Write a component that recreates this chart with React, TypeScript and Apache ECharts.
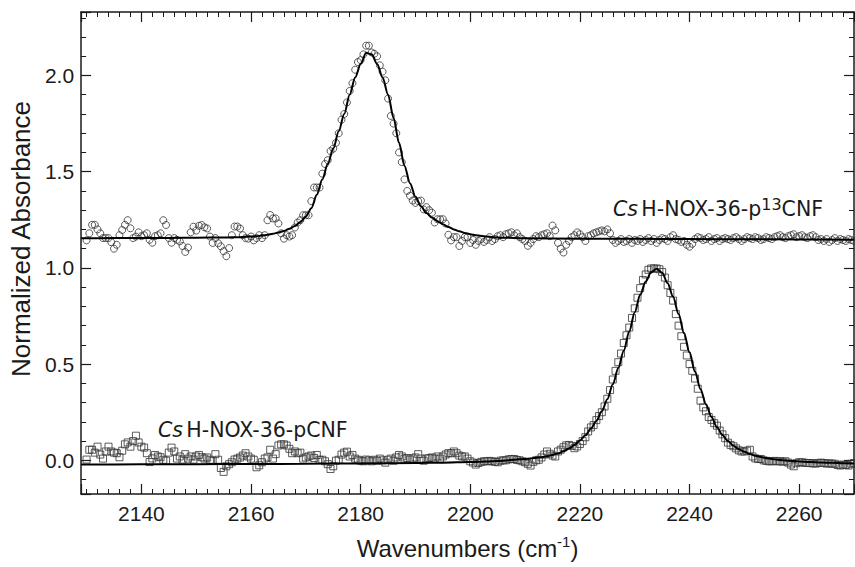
import React, { useEffect, useRef } from 'react';
import * as echarts from 'echarts';

// Sampling grid of the measured spectra (cm^-1)
const WN_START = 2130;
const WN_STEP = 0.5;

// Cs H-NOX-36-p13CNF (circles), offset spectrum
const p13Absorbance = [
  1.143, 1.18, 1.224, 1.224, 1.2, 1.18, 1.155, 1.155, 1.155, 1.134,
  1.1, 1.12, 1.17, 1.197, 1.224, 1.248, 1.206, 1.155, 1.163, 1.185,
  1.165, 1.17, 1.18, 1.146, 1.131, 1.165, 1.17, 1.18, 1.248, 1.223,
  1.155, 1.131, 1.155, 1.146, 1.138, 1.114, 1.083, 1.106, 1.185, 1.214,
  1.194, 1.219, 1.223, 1.211, 1.205, 1.163, 1.13, 1.155, 1.128, 1.112,
  1.087, 1.061, 1.103, 1.17, 1.215, 1.215, 1.205, 1.17, 1.155, 1.152,
  1.163, 1.143, 1.155, 1.17, 1.155, 1.17, 1.248, 1.275, 1.257, 1.257,
  1.231, 1.18, 1.152, 1.17, 1.163, 1.17, 1.21, 1.236, 1.248, 1.274,
  1.274, 1.274, 1.347, 1.418, 1.418, 1.418, 1.49, 1.54, 1.56, 1.607,
  1.62, 1.65, 1.7, 1.77, 1.8, 1.86, 1.92, 1.96, 2.03, 2.07,
  2.08, 2.11, 2.155, 2.155, 2.12, 2.113, 2.1, 2.053, 2.02, 1.975,
  1.88, 1.79, 1.75, 1.7, 1.6, 1.55, 1.46, 1.4, 1.375, 1.35,
  1.338, 1.347, 1.35, 1.304, 1.316, 1.3, 1.287, 1.236, 1.253, 1.253,
  1.253, 1.231, 1.172, 1.143, 1.16, 1.16, 1.114, 1.14, 1.16, 1.16,
  1.13, 1.145, 1.12, 1.14, 1.15, 1.135, 1.145, 1.16, 1.14, 1.15,
  1.165, 1.17, 1.16, 1.175, 1.18, 1.185, 1.17, 1.18, 1.16, 1.15,
  1.14, 1.115, 1.13, 1.15, 1.165, 1.16, 1.17, 1.175, 1.18, 1.165,
  1.22, 1.195, 1.13, 1.1, 1.08, 1.12, 1.14, 1.16, 1.17, 1.185,
  1.175, 1.16, 1.14, 1.165, 1.17, 1.18, 1.185, 1.19, 1.195, 1.19,
  1.2, 1.18, 1.145, 1.13, 1.14, 1.15, 1.135, 1.14, 1.15, 1.13,
  1.145, 1.14, 1.15, 1.135, 1.145, 1.155, 1.14, 1.15, 1.13, 1.145,
  1.155, 1.15, 1.14, 1.16, 1.17, 1.15, 1.145, 1.135, 1.14, 1.12,
  1.11, 1.125, 1.15, 1.16, 1.155, 1.145, 1.15, 1.16, 1.14, 1.15,
  1.155, 1.14, 1.15, 1.155, 1.15, 1.145, 1.155, 1.16, 1.15, 1.14,
  1.15, 1.16, 1.155, 1.15, 1.16, 1.155, 1.145, 1.15, 1.16, 1.155,
  1.15, 1.16, 1.165, 1.17, 1.16, 1.155, 1.165, 1.17, 1.175, 1.16,
  1.165, 1.17, 1.16, 1.155, 1.165, 1.17, 1.16, 1.145, 1.15, 1.14,
  1.15, 1.135, 1.145, 1.155, 1.14, 1.15, 1.145, 1.14, 1.15, 1.145, 1.14,
];

// Cs H-NOX-36-pCNF (squares)
const pAbsorbance = [
  0.004, 0.055, 0.055, 0.04, 0.071, 0.03, 0.009, 0.046, 0.071, 0.046,
  0.04, 0.037, 0.016, 0.05, 0.083, 0.093, 0.071, 0.1, 0.128, 0.093,
  0.071, 0.066, 0.037, -0.009, 0.01, 0.028, 0.02, 0.016, 0.003, -0.002,
  0.04, 0.066, 0.046, 0.009, 0.02, 0.004, 0.032, 0.009, 0.02, 0.004,
  0.02, 0.028, 0.016, 0.009, 0.015, 0.003, -0.002, 0.032, 0.003, -0.04,
  -0.06, -0.031, -0.02, -0.01, 0.004, 0.009, 0.015, 0.025, 0.037, 0.02,
  0.009, 0.003, -0.036, -0.026, -0.01, 0.009, 0.015, 0.055, 0.009, 0.032,
  0.077, 0.083, 0.083, 0.077, 0.06, 0.037, 0.046, 0.037, 0.04, 0.009,
  0.015, 0.02, 0.025, 0.012, 0.028, 0.003, 0.003, -0.005, -0.02, -0.045,
  -0.031, -0.002, 0.003, 0.03, 0.04, 0.045, 0.02, 0.028, 0.009, 0.003,
  -0.002, -0.005, 0.004, 0.0, -0.005, 0.003, -0.002, 0.009, 0.0, -0.012,
  0.003, 0.009, -0.002, 0.015, 0.028, 0.02, 0.009, 0.012, 0.004, 0.01,
  0.015, 0.032, 0.009, -0.002, 0.009, 0.012, 0.015, 0.009, 0.02, 0.009,
  0.02, 0.03, 0.037, 0.037, 0.046, 0.037, 0.025, 0.02, 0.02, 0.009,
  -0.005, -0.012, -0.022, -0.014, -0.008, -0.005, -0.005, -0.003, -0.005, -0.008,
  -0.01, -0.002, 0.0, 0.0, 0.005, 0.007, 0.007, 0.002, 0.0, -0.005,
  -0.01, -0.018, -0.027, -0.008, 0.0, 0.003, 0.015, 0.03, 0.046, 0.034,
  0.025, 0.02, 0.046, 0.055, 0.068, 0.078, 0.08, 0.075, 0.063, 0.072,
  0.085, 0.1, 0.12, 0.15, 0.171, 0.183, 0.209, 0.23, 0.25, 0.28,
  0.32, 0.365, 0.42, 0.465, 0.51, 0.555, 0.61, 0.65, 0.69, 0.74,
  0.79, 0.845, 0.895, 0.937, 0.966, 0.99, 0.997, 0.997, 0.997, 0.993,
  0.979, 0.95, 0.91, 0.87, 0.83, 0.76, 0.7, 0.645, 0.59, 0.545,
  0.5, 0.465, 0.425, 0.372, 0.31, 0.275, 0.255, 0.225, 0.21, 0.193,
  0.18, 0.155, 0.135, 0.115, 0.092, 0.08, 0.073, 0.062, 0.052, 0.046,
  0.046, 0.05, 0.055, 0.02, 0.01, 0.007, 0.007, 0.0, -0.003, -0.005,
  -0.005, -0.003, -0.005, -0.005, -0.007, -0.005, -0.012, -0.022, -0.031, -0.015,
  -0.01, -0.01, -0.013, -0.014, -0.014, -0.016, -0.017, -0.014, -0.012, -0.014,
  -0.017, -0.016, -0.017, -0.018, -0.024, -0.027, -0.022, -0.024, -0.027, -0.018,
  -0.014,
];

// Fitted curves
const p13FitWn = [
  2129, 2135, 2140, 2145, 2150, 2155, 2158, 2160, 2161, 2162, 2163, 2164, 2165, 2166, 2167,
  2168, 2169, 2170, 2171, 2172, 2173, 2174, 2175, 2176, 2177, 2178, 2179, 2180, 2181, 2182,
  2183, 2184, 2185, 2186, 2187, 2188, 2189, 2190, 2191, 2192, 2193, 2194, 2195, 2196, 2197,
  2198, 2199, 2200, 2201, 2202, 2203, 2204, 2206, 2210, 2220, 2230, 2240, 2250, 2260, 2270,
];
const p13Fit = [
  1.154, 1.155, 1.155, 1.156, 1.157, 1.158, 1.16, 1.163, 1.165, 1.168, 1.172, 1.177, 1.184, 1.192, 1.203,
  1.218, 1.238, 1.267, 1.31, 1.38, 1.46, 1.54, 1.62, 1.71, 1.8, 1.9, 1.99, 2.06, 2.118, 2.11,
  2.06, 1.99, 1.9, 1.78, 1.65, 1.53, 1.44, 1.37, 1.32, 1.285, 1.262, 1.243, 1.227, 1.213, 1.2,
  1.19, 1.182, 1.175, 1.17, 1.166, 1.163, 1.16, 1.157, 1.154, 1.152, 1.151, 1.15, 1.149, 1.148, 1.147,
];
const pFitWn = [
  2129, 2140, 2150, 2160, 2170, 2180, 2190, 2195, 2200, 2203, 2205, 2207, 2209, 2211,
  2213, 2214, 2215, 2216, 2217, 2218, 2219, 2220, 2221, 2222, 2223, 2224, 2225, 2226, 2227,
  2228, 2229, 2230, 2231, 2232, 2233, 2234, 2235, 2236, 2237, 2238, 2239, 2240, 2241, 2242,
  2243, 2244, 2245, 2246, 2247, 2248, 2249, 2250, 2251, 2252, 2253, 2254, 2255, 2256, 2257,
  2258, 2260, 2262, 2264, 2266, 2268, 2270,
];
const pFit = [
  -0.022, -0.021, -0.02, -0.019, -0.018, -0.016, -0.014, -0.012, -0.009, -0.006, -0.004, 0.0, 0.005, 0.01,
  0.016, 0.021, 0.028, 0.036, 0.047, 0.062, 0.08, 0.103, 0.13, 0.165, 0.205, 0.255, 0.318, 0.395, 0.48,
  0.57, 0.67, 0.77, 0.86, 0.93, 0.978, 0.995, 0.975, 0.92, 0.85, 0.76, 0.66, 0.56, 0.46, 0.37,
  0.29, 0.225, 0.172, 0.132, 0.1, 0.076, 0.058, 0.044, 0.033, 0.024, 0.017, 0.011, 0.007, 0.003, 0.0,
  -0.002, -0.006, -0.009, -0.011, -0.013, -0.015, -0.016,
];

const X_RANGE = [2129, 2270];
const Y_RANGE = [-0.175, 2.33];

const LABEL_FONT = "'Liberation Sans', Arial, Helvetica, sans-serif";
const NOTE_FONT = "'DejaVu Sans', Verdana, sans-serif";
const INK = '#1a1a1a';

export default function App() {
  const ref = useRef<HTMLDivElement>(null);

  useEffect(() => {
    const chart = echarts.init(ref.current!, null, { renderer: 'svg' });

    const toPairs = (xs: number[], ys: number[]) => ys.map((y, i) => [xs[i], y]);
    const grid = (n: number) => Array.from({ length: n }, (_, i) => WN_START + i * WN_STEP);

    const axisLine = { show: true, onZero: false, lineStyle: { color: INK, width: 1.5 } };
    const tick = { show: true, inside: true, length: 10, lineStyle: { color: INK, width: 1.2 } };
    const minorX = { show: true, splitNumber: 10, length: 5, lineStyle: { color: INK, width: 1 } };
    const minorY = { show: true, splitNumber: 5, length: 5, lineStyle: { color: INK, width: 1 } };

    const xBase = {
      type: 'value',
      min: X_RANGE[0],
      max: X_RANGE[1],
      splitNumber: 7,
      axisLine,
      axisTick: tick,
      minorTick: minorX,
      splitLine: { show: false },
      minorSplitLine: { show: false },
    };
    const yBase = {
      type: 'value',
      min: Y_RANGE[0],
      max: Y_RANGE[1],
      splitNumber: 5,
      axisLine,
      axisTick: tick,
      minorTick: minorY,
      splitLine: { show: false },
      minorSplitLine: { show: false },
    };

    const noteRich = {
      i: { fontSize: 20.5, fontStyle: 'italic', fontFamily: NOTE_FONT, fill: INK, lineHeight: 26 },
      n: { fontSize: 20.5, fontFamily: NOTE_FONT, fill: INK, lineHeight: 26 },
      sup: { fontSize: 16, fontFamily: NOTE_FONT, fill: INK, lineHeight: 15, verticalAlign: 'top' },
    };

    chart.setOption({
      animation: false,
      backgroundColor: '#ffffff',
      grid: { left: 79, right: 1, top: 12, bottom: 64, containLabel: false },
      xAxis: [
        {
          ...xBase,
          position: 'bottom',
          axisLabel: {
            showMinLabel: false,
            showMaxLabel: false,
            fontSize: 21,
            fontFamily: LABEL_FONT,
            color: INK,
            margin: 9,
            formatter: (v: number) => String(Math.round(v)),
          },
          name: 'Wavenumbers (cm{sup|-1})',
          nameLocation: 'middle',
          nameGap: 40,
          nameTextStyle: {
            fontSize: 24,
            fontFamily: LABEL_FONT,
            color: INK,
            lineHeight: 28,
            rich: {
              sup: { fontSize: 15, fontFamily: LABEL_FONT, color: INK, lineHeight: 15, verticalAlign: 'top' },
            },
          },
        },
        { ...xBase, position: 'top', axisLabel: { show: false } },
      ],
      yAxis: [
        {
          ...yBase,
          position: 'left',
          axisLabel: {
            showMinLabel: false,
            showMaxLabel: false,
            fontSize: 21,
            fontFamily: LABEL_FONT,
            color: INK,
            margin: 7,
            formatter: (v: number) => v.toFixed(1),
          },
          name: 'Normalized Absorbance',
          nameLocation: 'middle',
          nameGap: 41,
          nameTextStyle: {
            fontSize: 26,
            fontFamily: LABEL_FONT,
            color: INK,
            padding: [0, 0, 0, 28],
          },
        },
        { ...yBase, position: 'right', axisLabel: { show: false } },
      ],
      series: [
        {
          type: 'scatter',
          name: 'p13CNF data',
          symbol: 'circle',
          symbolSize: 7,
          itemStyle: { color: 'transparent', borderColor: '#333', borderWidth: 1 },
          data: toPairs(grid(p13Absorbance.length), p13Absorbance),
          z: 2,
        },
        {
          type: 'scatter',
          name: 'pCNF data',
          symbol: 'rect',
          symbolSize: 7,
          itemStyle: { color: 'transparent', borderColor: '#333', borderWidth: 1 },
          data: toPairs(grid(pAbsorbance.length), pAbsorbance),
          z: 2,
        },
        {
          type: 'line',
          name: 'p13CNF fit',
          showSymbol: false,
          smooth: 0.3,
          smoothMonotone: 'x',
          lineStyle: { color: '#000', width: 2 },
          data: toPairs(p13FitWn, p13Fit),
          z: 3,
        },
        {
          type: 'line',
          name: 'pCNF fit',
          showSymbol: false,
          smooth: 0.3,
          smoothMonotone: 'x',
          lineStyle: { color: '#000', width: 2 },
          data: toPairs(pFitWn, pFit),
          z: 3,
        },
      ],
      graphic: [
        {
          type: 'text',
          left: 613,
          top: 196,
          z: 10,
          style: {
            text: '{i|Cs} {n|H-NOX-36-p}{sup|13}{n|CNF}',
            fill: INK,
            rich: noteRich,
          },
        },
        {
          type: 'text',
          left: 158,
          top: 419,
          z: 10,
          style: {
            text: '{i|Cs} {n|H-NOX-36-pCNF}',
            fill: INK,
            rich: noteRich,
          },
        },
      ],
    });

    return () => chart.dispose();
  }, []);

  return (
    <div
      ref={ref}
      style={{ position: 'fixed', left: 0, top: 0, width: 855, height: 567, background: '#fff' }}
    />
  );
}
